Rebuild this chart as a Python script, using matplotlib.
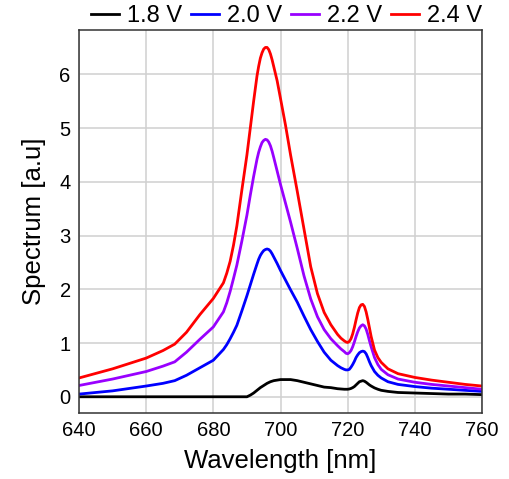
import matplotlib.pyplot as plt

plt.rcParams['font.family'] = ['Liberation Sans', 'DejaVu Sans']

# wavelength grid [nm]
wavelength = [640, 650, 660, 665, 668.5, 672, 676, 680, 683, 684, 685, 686, 687, 688.5, 690, 691, 692,
              693, 693.5, 694, 694.5, 695, 695.5, 696, 696.5, 697, 697.5, 698, 699, 700, 701.5,
              703, 705, 707, 709, 711, 713, 715, 717, 718,
              719, 719.5, 720, 720.5, 721, 721.5, 722, 722.5, 723, 723.5, 724, 724.5, 725, 725.5,
              726, 726.5, 727, 728, 729, 730, 732, 735, 740, 745, 750, 755, 760]

spec_18 = [0, 0, 0, 0, 0, 0, 0, 0, 0, 0, 0, 0, 0, 0, 0.0, 0.03, 0.07,
           0.12, 0.145, 0.17, 0.19, 0.21, 0.23, 0.25, 0.265, 0.28, 0.29, 0.30, 0.31, 0.32, 0.32,
           0.32, 0.30, 0.27, 0.24, 0.21, 0.18, 0.17, 0.15, 0.145,
           0.14, 0.14, 0.14, 0.145, 0.155, 0.17, 0.19, 0.22, 0.25, 0.28, 0.29, 0.30, 0.29, 0.27,
           0.245, 0.22, 0.20, 0.165, 0.14, 0.12, 0.10, 0.08, 0.07, 0.06, 0.05, 0.05, 0.04]

spec_20 = [0.05, 0.11, 0.20, 0.25, 0.30, 0.40, 0.54, 0.68, 0.88, 0.97, 1.08, 1.20, 1.33, 1.60, 1.88, 2.08, 2.28,
           2.47, 2.56, 2.63, 2.68, 2.72, 2.74, 2.75, 2.74, 2.71, 2.66, 2.60, 2.48, 2.35, 2.17,
           1.99, 1.76, 1.50, 1.25, 1.03, 0.83, 0.68, 0.58, 0.54,
           0.51, 0.50, 0.50, 0.51, 0.55, 0.60, 0.66, 0.73, 0.78, 0.82, 0.84, 0.85, 0.84, 0.80,
           0.73, 0.65, 0.58, 0.47, 0.40, 0.35, 0.28, 0.23, 0.19, 0.16, 0.14, 0.12, 0.10]

spec_22 = [0.21, 0.33, 0.47, 0.57, 0.65, 0.83, 1.07, 1.30, 1.58, 1.75, 1.96, 2.20, 2.45, 2.90, 3.38, 3.75, 4.10,
           4.42, 4.55, 4.65, 4.73, 4.77, 4.79, 4.78, 4.74, 4.67, 4.57, 4.45, 4.20, 3.95, 3.60,
           3.25, 2.76, 2.25, 1.82, 1.49, 1.25, 1.08, 0.95, 0.89,
           0.84, 0.81, 0.80, 0.82, 0.86, 0.93, 1.02, 1.12, 1.21, 1.28, 1.32, 1.34, 1.32, 1.26,
           1.16, 1.04, 0.93, 0.73, 0.60, 0.51, 0.41, 0.33, 0.27, 0.23, 0.20, 0.17, 0.14]

spec_24 = [0.35, 0.52, 0.72, 0.86, 0.98, 1.20, 1.53, 1.83, 2.12, 2.30, 2.52, 2.82, 3.18, 3.85, 4.50, 5.00, 5.50,
           5.97, 6.15, 6.30, 6.40, 6.47, 6.50, 6.50, 6.46, 6.38, 6.27, 6.14, 5.88, 5.55, 5.05,
           4.50, 3.82, 3.12, 2.42, 1.92, 1.57, 1.34, 1.16, 1.09,
           1.04, 1.02, 1.01, 1.03, 1.08, 1.17, 1.29, 1.43, 1.56, 1.66, 1.71, 1.72, 1.68, 1.58,
           1.44, 1.28, 1.12, 0.87, 0.73, 0.64, 0.52, 0.43, 0.36, 0.31, 0.27, 0.23, 0.20]

labels = ['1.8 V', '2.0 V', '2.2 V', '2.4 V']
colors = ['black', '#0000ff', '#9900ff', '#ff0000']

fig = plt.figure(figsize=(5.1, 4.79), dpi=100)
ax = fig.add_axes([0.155, 0.138, 0.79, 0.8])

for s, lab, c in zip([spec_18, spec_20, spec_22, spec_24], labels, colors):
    ax.plot(wavelength, s, color=c, lw=2.0, label=lab, solid_joinstyle='round')

ax.set_xlim(640, 760)
ax.set_ylim(-0.3, 6.83)
ax.set_xticks(range(640, 761, 20))
ax.set_yticks(range(0, 7))
ax.grid(True, color='#d0d0d0', lw=1.1)
ax.set_axisbelow(True)
ax.tick_params(length=0, labelsize=14.5, pad=6)
for sp in ax.spines.values():
    sp.set_color('#333333')
    sp.set_linewidth(1.1)

ax.set_xlabel('Wavelength [nm]', fontsize=18.5, labelpad=6)
ax.set_ylabel('Spectrum [a.u]', fontsize=18.5, labelpad=10)

ax.legend(loc='lower center', bbox_to_anchor=(0.515, 1.0), ncol=4, frameon=False,
          fontsize=17, handlelength=1.2, handletextpad=0.35, columnspacing=0.35,
          borderaxespad=0, borderpad=0.1)

fig.savefig('out.png', dpi=100)
